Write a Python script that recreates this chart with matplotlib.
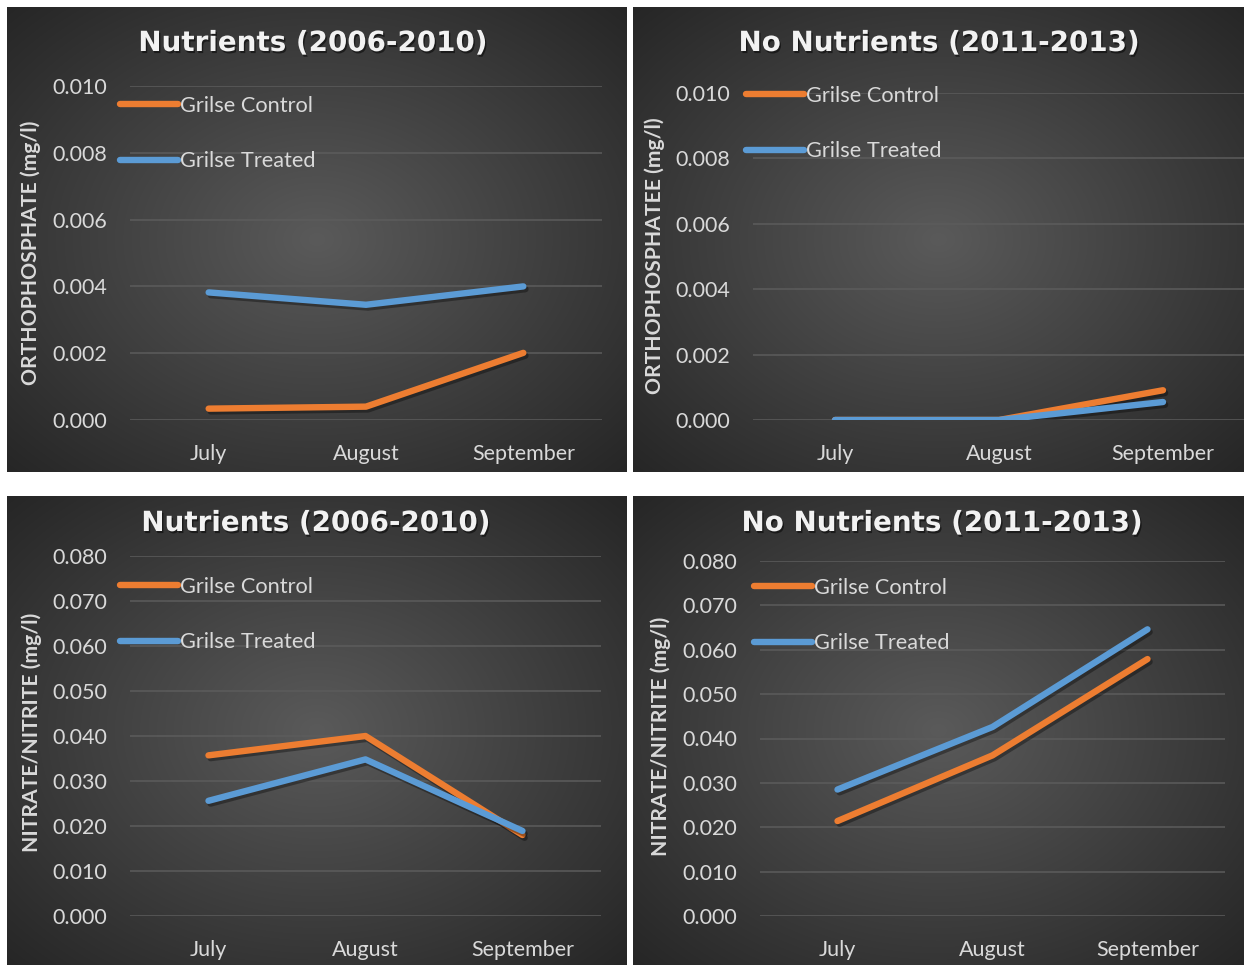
import numpy as np
import matplotlib
matplotlib.use("Agg")
import matplotlib.pyplot as plt
import matplotlib.patheffects as pe
from matplotlib.ticker import MultipleLocator, FormatStrFormatter

# ---- data ----
months = ["July", "August", "September"]
series_names = ["Grilse Control", "Grilse Treated"]

phos_nutr_control = [0.00034, 0.00040, 0.00201]
phos_nutr_treated = [0.00382, 0.00345, 0.00400]
phos_none_control = [0.0, 0.0, 0.00091]
phos_none_treated = [0.0, 0.0, 0.00055]

nitr_nutr_control = [0.0357, 0.0400, 0.0180]
nitr_nutr_treated = [0.0256, 0.0348, 0.0189]
nitr_none_control = [0.0214, 0.0362, 0.0579]
nitr_none_treated = [0.0285, 0.0426, 0.0646]

titles = ["Nutrients (2006-2010)", "No Nutrients (2011-2013)",
          "Nutrients (2006-2010)", "No Nutrients (2011-2013)"]
ylabels = ["ORTHOPHOSPHATE (mg/l)", "ORTHOPHOSPHATEE (mg/l)",
           "NITRATE/NITRITE (mg/l)", "NITRATE/NITRITE (mg/l)"]

ORANGE = "#ED7D31"
BLUE = "#5B9BD5"
TXT = "#d9d9d9"
FONT = "Lato"
TITLE_FONT = "DejaVu Sans"

W, H = 1244, 965
fig = plt.figure(figsize=(W / 100, H / 100), dpi=100, facecolor="white")


def fx(x):
    return x / W


def fy(y):
    return 1 - y / H


def rect(x0, y0, x1, y1):
    return [fx(x0), fy(y1), (x1 - x0) / W, (y1 - y0) / H]


# layout in pixels: panel box, plot box, title centre, ylabel centre, legend origin
layouts = [
    dict(panel=(7, 7, 627, 472), plot=(130, 86, 602, 420), title=(313, 43),
         ylab=(31, 253), leg=(120, 96)),
    dict(panel=(633, 7, 1244, 472), plot=(753, 93, 1245, 420), title=(939, 43),
         ylab=(655, 256), leg=(746, 86)),
    dict(panel=(7, 496, 627, 965), plot=(130, 556, 601, 916), title=(316, 523),
         ylab=(32, 732), leg=(120, 577)),
    dict(panel=(633, 496, 1244, 965), plot=(760, 561, 1225, 916), title=(942, 523),
         ylab=(661, 736), leg=(754, 578)),
]

data = [
    (phos_nutr_control, phos_nutr_treated, 0.010, 0.002),
    (phos_none_control, phos_none_treated, 0.010, 0.002),
    (nitr_nutr_control, nitr_nutr_treated, 0.080, 0.010),
    (nitr_none_control, nitr_none_treated, 0.080, 0.010),
]


def radial_background(ax, w, h):
    yy, xx = np.mgrid[-1:1:h * 1j, -1:1:w * 1j]
    r = np.sqrt(xx ** 2 + yy ** 2) / np.sqrt(2)
    c0, c1 = 0x5a / 255, 0x26 / 255
    v = c0 + (c1 - c0) * r
    img = np.dstack([v, v, v])
    ax.imshow(img, extent=[0, 1, 0, 1], aspect="auto", interpolation="bilinear")
    ax.set_axis_off()


shadow = [pe.SimpleLineShadow(offset=(1.5, -2), shadow_color="black", alpha=0.35),
          pe.Normal()]

for lay, (ctrl, treat, ymax, step), title, ylab in zip(layouts, data, titles, ylabels):
    px0, py0, px1, py1 = lay["panel"]
    bg = fig.add_axes(rect(*lay["panel"]), zorder=0)
    radial_background(bg, px1 - px0, py1 - py0)

    ax = fig.add_axes(rect(*lay["plot"]), zorder=1)
    ax.patch.set_alpha(0)
    x = np.arange(len(months))
    l1, = ax.plot(x, ctrl, color=ORANGE, lw=4.6, solid_capstyle="round",
                  solid_joinstyle="round", label=series_names[0], path_effects=shadow,
                  zorder=3)
    l2, = ax.plot(x, treat, color=BLUE, lw=4.6, solid_capstyle="round",
                  solid_joinstyle="round", label=series_names[1], path_effects=shadow,
                  zorder=4)
    ax.set_xlim(-0.5, len(months) - 0.5)
    ax.set_ylim(0, ymax)
    ax.yaxis.set_major_locator(MultipleLocator(step))
    ax.yaxis.set_major_formatter(FormatStrFormatter("%.3f"))
    ax.set_xticks(x)
    ax.set_xticklabels(months)
    ax.grid(axis="y", color="#5c5c5c", lw=1.1, zorder=1)
    ax.set_axisbelow(True)
    for s in ax.spines.values():
        s.set_visible(False)
    ax.tick_params(axis="both", length=0, colors=TXT, labelsize=15.5)
    ax.tick_params(axis="y", pad=16.5)
    ax.tick_params(axis="x", pad=17)
    for lbl in ax.get_xticklabels() + ax.get_yticklabels():
        lbl.set_fontfamily(FONT)

    lx, ly = lay["leg"]
    leg = fig.legend(handles=[l1, l2], loc="upper left",
                     bbox_to_anchor=(fx(lx), fy(ly)), frameon=False,
                     borderpad=0, borderaxespad=0, handlelength=2.65,
                     handletextpad=0.1, labelspacing=1.62,
                     prop=dict(family=FONT, size=15.7))
    for t in leg.get_texts():
        t.set_color(TXT)
    for hl in leg.get_lines():
        hl.set_path_effects([])
        hl.set_linewidth(4.6)
        hl.set_solid_capstyle("round")

    tx, ty = lay["title"]
    fig.text(fx(tx), fy(ty), title, ha="center", va="center", color="#f2f2f2",
             fontsize=20, fontweight="bold", family=TITLE_FONT,
             path_effects=[pe.withSimplePatchShadow(offset=(1, -1.5),
                                                    shadow_rgbFace="black", alpha=0.5)])
    yx, yy = lay["ylab"]
    fig.text(fx(yx), fy(yy), ylab, ha="center", va="center", rotation=90,
             color=TXT, fontsize=15.2, fontweight="bold", family=FONT)

fig.savefig("out.png", dpi=100, facecolor="white")
